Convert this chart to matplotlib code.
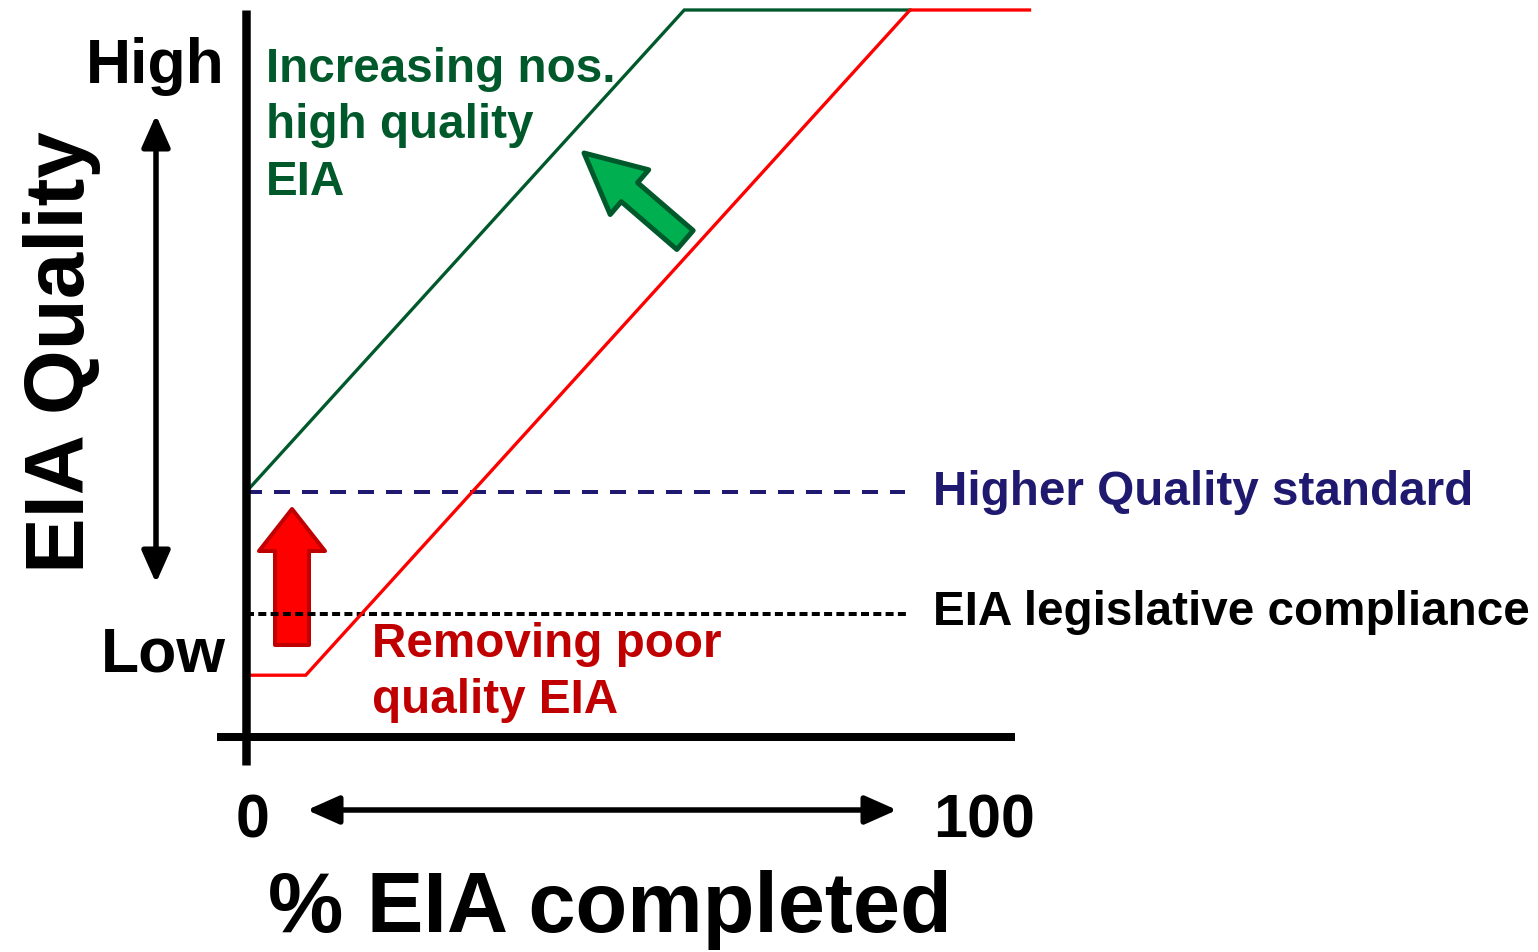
import matplotlib
matplotlib.use('Agg')
import matplotlib.pyplot as plt
import matplotlib.transforms as mtransforms

plt.rcParams['font.family'] = ['Liberation Sans', 'DejaVu Sans']
plt.rcParams['lines.scale_dashes'] = False

# ---------------- data (x: % EIA completed, y: EIA quality 0-100) ----------------
green_x = [0, 66, 100]
green_q = [33.7, 100, 100]
red_x = [0, 9, 100, 118]
red_q = [8.5, 8.5, 100, 100]
higher_standard_q = 33.7
compliance_q = 16.9
standard_end_x = 99.3
compliance_end_x = 100
x_tick_labels = ['0', '100']
y_tick_labels = ['High', 'Low']
green_note = ['Increasing nos.', 'high quality', 'EIA']
red_note = ['Removing poor', 'quality EIA']

# ---------------- figure ----------------
W, H = 1538, 952
fig = plt.figure(figsize=(W / 100, H / 100), dpi=100)
ax = fig.add_axes([0, 0, 1, 1])
ax.set_axis_off()
X0, XS = 246, 6.64   # pixel of x=0, pixels per % unit
Y0, YS = 737, 7.27   # pixel of q=0, pixels per quality unit
ax.set_xlim(-X0 / XS, (W - X0) / XS)
ax.set_ylim((Y0 - H) / YS, Y0 / YS)

# pixel-based transform (origin top-left) for annotation layout
PX = mtransforms.Affine2D().scale(1 / W, -1 / H).translate(0, 1) + fig.transFigure

GREEN_DARK = '#00592B'
GREEN_FILL = '#00B050'
NAVY = '#1F1A6F'
RED = '#FF0000'
RED_DARK = '#C00000'
PT = 0.72  # points per pixel

# fat arrows (drawn first so dashed line can overlay)
ax.annotate('', xy=(584, 153), xytext=(685, 240), xycoords=PX, textcoords=PX,
            arrowprops=dict(arrowstyle='simple,head_length=60,head_width=59,tail_width=25',
                            mutation_scale=PT, fc=GREEN_FILL, ec=GREEN_DARK, lw=5 * PT,
                            shrinkA=0, shrinkB=0), zorder=2)
ax.annotate('', xy=(292, 509), xytext=(292, 645), xycoords=PX, textcoords=PX,
            arrowprops=dict(arrowstyle='simple,head_length=42,head_width=66,tail_width=34',
                            mutation_scale=PT, fc=RED, ec=RED_DARK, lw=4 * PT,
                            shrinkA=0, shrinkB=0), zorder=2)

# threshold lines
ax.plot([0, standard_end_x], [higher_standard_q] * 2, color=NAVY, lw=4 * PT,
        linestyle=(0, (16 * PT, 12 * PT)), zorder=3)
ax.plot([0, compliance_end_x], [compliance_q] * 2, color='black', lw=4 * PT,
        linestyle=(0, (8 * PT, 4.3 * PT)), zorder=3)

# curves
ax.plot(green_x, green_q, color=GREEN_DARK, lw=3.3 * PT, solid_joinstyle='miter', zorder=4)
ax.plot(red_x, red_q, color=RED, lw=3.3 * PT, solid_joinstyle='miter', zorder=4)

# axes lines
ax.plot([0, 0], [-3.85, 100], color='black', lw=8.5 * PT, solid_capstyle='butt', zorder=5)
ax.plot([-4.4, 115.8], [0, 0], color='black', lw=8 * PT, solid_capstyle='butt', zorder=5)

# double-headed arrows
dbl = dict(arrowstyle='<|-|>,head_length=27,head_width=12', mutation_scale=PT,
           color='black', lw=5.5 * PT, shrinkA=0, shrinkB=0)
ax.annotate('', xy=(156, 115), xytext=(156, 583), xycoords=PX, textcoords=PX, arrowprops=dbl)
ax.annotate('', xy=(307, 810), xytext=(897, 810), xycoords=PX, textcoords=PX, arrowprops=dbl)

# texts
bold = dict(fontweight='bold', transform=PX)
ax.text(225, 83, y_tick_labels[0], ha='right', va='baseline', fontsize=45, **bold)
ax.text(226, 672, y_tick_labels[1], ha='right', va='baseline', fontsize=45, **bold)
ax.text(84, 352, 'EIA Quality', rotation=90, rotation_mode='anchor', ha='center',
        va='baseline', fontsize=60, **bold)
ax.text(253, 838, x_tick_labels[0], ha='center', va='baseline', fontsize=44, **bold)
ax.text(933, 838, x_tick_labels[1], ha='left', va='baseline', fontsize=44, **bold)
ax.text(610, 932, '% EIA completed', ha='center', va='baseline', fontsize=61, **bold)

for line, base in zip(green_note, [82, 138.5, 195]):
    ax.text(266, base, line, ha='left', va='baseline', fontsize=34.3, color=GREEN_DARK, **bold)
for line, base in zip(red_note, [657, 713]):
    ax.text(372, base, line, ha='left', va='baseline', fontsize=34.3, color=RED_DARK, **bold)
ax.text(933, 505, 'Higher Quality standard', ha='left', va='baseline',
        fontsize=34.3, color=NAVY, **bold)
ax.text(933, 625, 'EIA legislative compliance', ha='left', va='baseline',
        fontsize=34.3, color='black', **bold)

fig.savefig('out.png', dpi=100, facecolor='white')
